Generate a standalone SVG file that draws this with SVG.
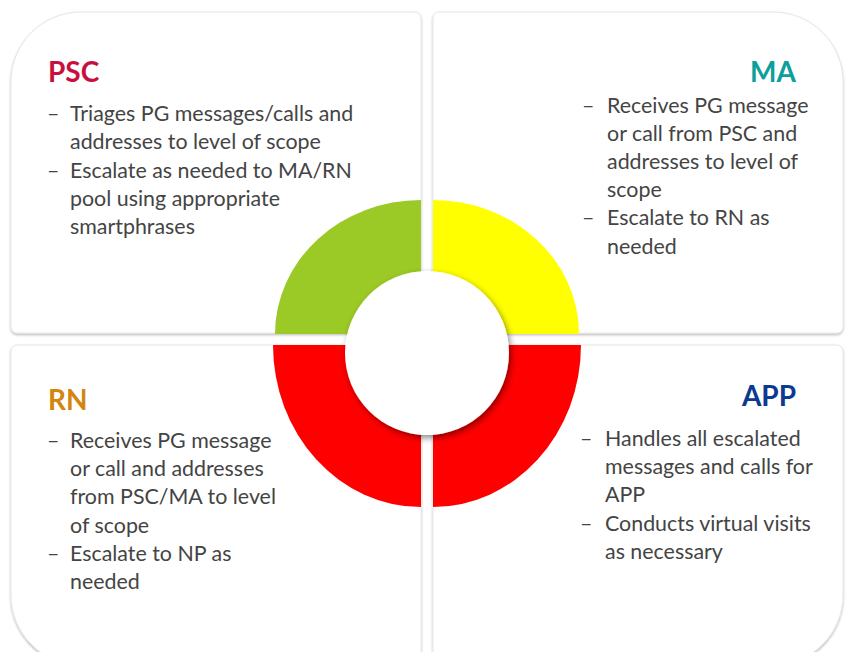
<svg xmlns="http://www.w3.org/2000/svg" width="846" height="652" viewBox="0 0 846 652">
<defs>
<filter id="pshadow" x="-5%" y="-5%" width="110%" height="110%">
<feDropShadow dx="0" dy="1.5" stdDeviation="1.2" flood-color="#000" flood-opacity="0.28"/>
</filter>
<filter id="cshadow" x="-20%" y="-20%" width="140%" height="140%">
<feDropShadow dx="2" dy="3" stdDeviation="3" flood-color="#000" flood-opacity="0.45"/>
</filter>
</defs>
<style>
.panel{fill:#fff;stroke:#e6e6e6;stroke-width:1;filter:url(#pshadow)}
.title{font-family:Lato,"Liberation Sans",sans-serif;font-weight:bold;font-size:28px}
.body{font-family:Lato,"Liberation Sans",sans-serif;font-size:21.4px;fill:#444}
</style>
<rect width="846" height="652" fill="#fff"/>
<g id="psc">
<path class="panel" d="M11,82 A70,70 0 0 1 81,12 H415 A6,6 0 0 1 421,18 V327 A6,6 0 0 1 415,333 H17 A6,6 0 0 1 11,327 Z"/>
<text class="title" x="48" y="82" fill="#C8103E">PSC</text>
<text class="body"><tspan x="47" y="121">–</tspan><tspan x="70" y="121">Triages PG messages/calls and</tspan><tspan x="70" y="149">addresses to level of scope</tspan><tspan x="47" y="178">–</tspan><tspan x="70" y="178">Escalate as needed to MA/RN</tspan><tspan x="70" y="206">pool using appropriate</tspan><tspan x="70" y="234">smartphrases</tspan></text>
</g>
<g id="ma">
<path class="panel" d="M439,12 H773 A70,70 0 0 1 843,82 V327 A6,6 0 0 1 837,333 H439 A6,6 0 0 1 433,327 V18 A6,6 0 0 1 439,12 Z"/>
<text class="title" x="796" y="82" fill="#0E9E9C" text-anchor="end">MA</text>
<text class="body"><tspan x="582" y="113">–</tspan><tspan x="607" y="113">Receives PG message</tspan><tspan x="607" y="141">or call from PSC and</tspan><tspan x="607" y="169">addresses to level of</tspan><tspan x="607" y="197">scope</tspan><tspan x="582" y="225">–</tspan><tspan x="607" y="225">Escalate to RN as</tspan><tspan x="607" y="254">needed</tspan></text>
</g>
<g id="rn">
<path class="panel" d="M17,345 H415 A6,6 0 0 1 421,351 V665 H81 A70,70 0 0 1 11,595 V351 A6,6 0 0 1 17,345 Z"/>
<text class="title" x="48" y="410" fill="#D4850E">RN</text>
<text class="body"><tspan x="47" y="448">–</tspan><tspan x="70" y="448">Receives PG message</tspan><tspan x="70" y="476">or call and addresses</tspan><tspan x="70" y="504">from PSC/MA to level</tspan><tspan x="70" y="533">of scope</tspan><tspan x="47" y="561">–</tspan><tspan x="70" y="561">Escalate to NP as</tspan><tspan x="70" y="589">needed</tspan></text>
</g>
<g id="app">
<path class="panel" d="M439,345 H837 A6,6 0 0 1 843,351 V595 A70,70 0 0 1 773,665 H433 V351 A6,6 0 0 1 439,345 Z"/>
<text class="title" x="796" y="406" fill="#0B3A8E" text-anchor="end">APP</text>
<text class="body"><tspan x="580" y="446">–</tspan><tspan x="605" y="446">Handles all escalated</tspan><tspan x="605" y="474">messages and calls for</tspan><tspan x="605" y="502">APP</tspan><tspan x="580" y="531">–</tspan><tspan x="605" y="531">Conducts virtual visits</tspan><tspan x="605" y="559">as necessary</tspan></text>
</g>
<g id="donut">
<path d="M421,334 H275 A146,134 0 0 1 421,200 Z" fill="#9BC925"/>
<path d="M433,334 V200 A146,134 0 0 1 579,334 Z" fill="#FFFF00"/>
<path d="M421,345 H273 A148,162 0 0 0 421,507 Z" fill="#FF0000"/>
<path d="M433,345 H581 A148,162 0 0 1 433,507 Z" fill="#FF0000"/>
<circle cx="427" cy="353" r="82" fill="#fff" filter="url(#cshadow)"/>
</g>
<g id="connectors"></g>
</svg>
